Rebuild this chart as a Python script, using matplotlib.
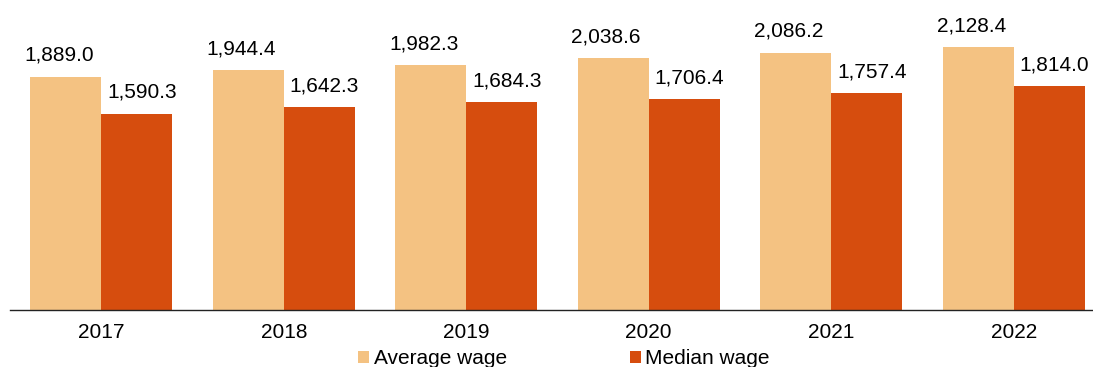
import numpy as np
import matplotlib
matplotlib.use("Agg")
import matplotlib.pyplot as plt

# === Data ===
years = ["2017", "2018", "2019", "2020", "2021", "2022"]
average_wage = [1889.0, 1944.4, 1982.3, 2038.6, 2086.2, 2128.4]
median_wage = [1590.3, 1642.3, 1684.3, 1706.4, 1757.4, 1814.0]

plt.rcParams["font.family"] = ["Liberation Sans", "DejaVu Sans"]

c_avg = "#F4C282"
c_med = "#D64D0E"

W, H = 1093, 367
fig = plt.figure(figsize=(W / 100, H / 100), dpi=100)

# axes runs a little past the right edge, like the original crop
ax = fig.add_axes([10 / W, 57 / H, 1095 / W, 310 / H])

x = np.arange(len(years))
bw = 0.39

b1 = ax.bar(x - bw / 2, average_wage, bw, color=c_avg, label="Average wage")
b2 = ax.bar(x + bw / 2, median_wage, bw, color=c_med, label="Median wage")

for xi, v in zip(x, average_wage):
    ax.annotate(f"{v:,.1f}", (xi - bw / 2, v), xytext=(-5, 11.5),
                textcoords="offset points", ha="center", va="baseline", fontsize=15)
for xi, v in zip(x, median_wage):
    ax.annotate(f"{v:,.1f}", (xi + bw / 2, v), xytext=(3.6, 11.5),
                textcoords="offset points", ha="center", va="baseline", fontsize=15)

ax.set_xlim(-0.5, 5.5)
ax.set_ylim(0, 2512)
ax.set_xticks(x)
ax.set_xticklabels(years, fontsize=15)
ax.tick_params(axis="x", length=0, pad=9)
ax.set_yticks([])

for s in ["top", "right", "left"]:
    ax.spines[s].set_visible(False)
ax.spines["bottom"].set_color("#222222")
ax.spines["bottom"].set_linewidth(1.0)

fig.legend(handles=[b1, b2], loc="center left",
           bbox_to_anchor=(358 / W, 1 - 359 / H), ncol=2, frameon=False,
           fontsize=15, handlelength=0.55, handleheight=0.55,
           handletextpad=0.2, columnspacing=5.9, borderpad=0, borderaxespad=0)

fig.savefig("out.png", dpi=100)
